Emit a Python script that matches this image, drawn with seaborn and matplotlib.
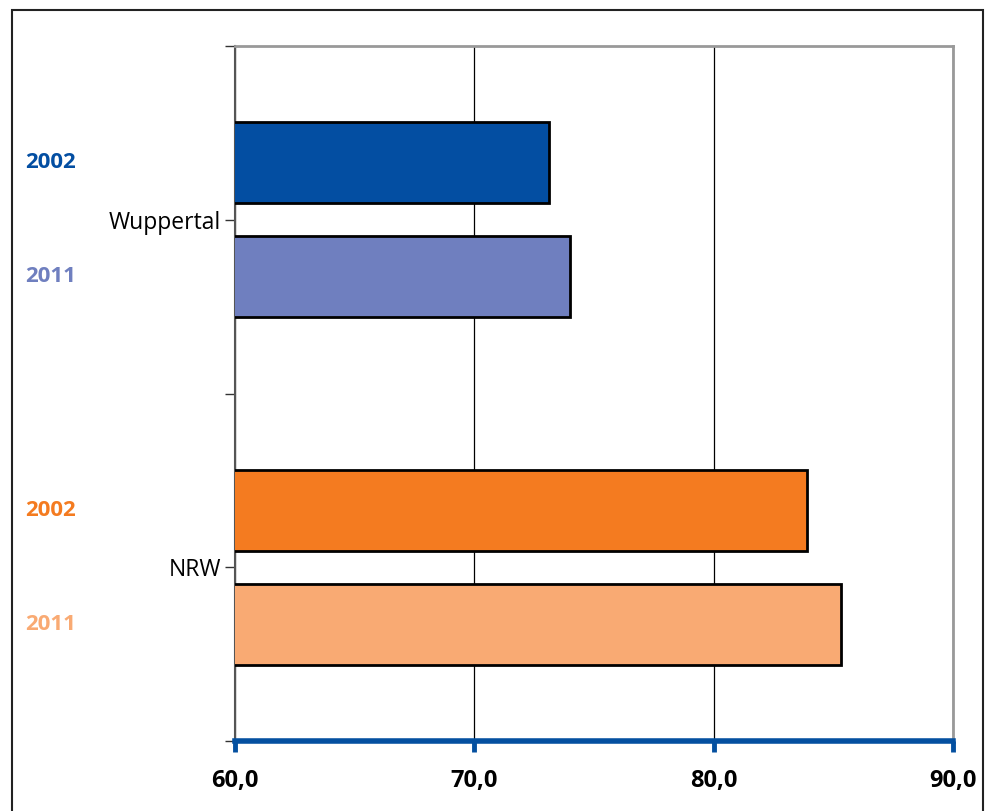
import numpy as np
import pandas as pd
import matplotlib
matplotlib.use('Agg')
import matplotlib.pyplot as plt
import seaborn as sns
from matplotlib.patches import Rectangle
from matplotlib.transforms import blended_transform_factory

# data
regions = ["Wuppertal", "NRW"]
years = ["2002", "2011"]
values_2002 = [73.1, 83.9]
values_2011 = [74.0, 85.3]
x_ticks = [60, 70, 80, 90]
x_tick_labels = ["60,0", "70,0", "80,0", "90,0"]

bar_colors = {
    ("Wuppertal", "2002"): "#034ea2",
    ("Wuppertal", "2011"): "#6f7fbf",
    ("NRW", "2002"): "#f47b20",
    ("NRW", "2011"): "#f9aa73",
}

df = pd.DataFrame({
    "region": regions * 2,
    "year": [years[0]] * 2 + [years[1]] * 2,
    "value": values_2002 + values_2011,
})

sns.set_style("white")
plt.rcParams['font.family'] = ['Open Sans', 'DejaVu Sans']
plt.rcParams['text.color'] = 'black'
plt.rcParams['xtick.labelcolor'] = 'black'
plt.rcParams['ytick.labelcolor'] = 'black'

fig = plt.figure(figsize=(9.86, 8.11), dpi=100)
ax = fig.add_axes([235 / 986, 70 / 811, 718 / 986, 695 / 811])

width = 0.656
sns.barplot(data=df, y="region", x="value", hue="year", order=regions,
            hue_order=years, orient="h", width=width, gap=0.29,
            edgecolor="black", linewidth=2, legend=False, ax=ax, zorder=3)

# recolour each bar by region/year
for yi, cont in enumerate(ax.containers):
    for ri, bar in enumerate(cont):
        bar.set_facecolor(bar_colors[(regions[ri], years[yi])])

ax.set_xlim(60, 90)
ax.set_ylim(len(regions) - 0.5, -0.5)
ax.set_xlabel("")
ax.set_ylabel("")

ax.set_xticks(x_ticks)
ax.set_xticklabels(x_tick_labels, fontsize=17, fontweight="bold")
ax.xaxis.grid(True, color="black", linewidth=0.9, zorder=0)
ax.set_axisbelow(True)

ax.set_yticks(range(len(regions)))
ax.set_yticklabels(regions, fontsize=16.5)
ax.set_yticks(np.arange(-0.5, len(regions), 1.0), minor=True)
ax.tick_params(axis="y", which="both", left=True, length=7, width=1,
               color="#333333", pad=3)
ax.tick_params(axis="x", bottom=True, length=8, width=3.5, color="#0450a0",
               pad=12, direction="out")

for side in ["top", "right"]:
    ax.spines[side].set_visible(True)
    ax.spines[side].set_color("#999999")
    ax.spines[side].set_linewidth(2)
ax.spines["left"].set_color("#555555")
ax.spines["left"].set_linewidth(1.5)
ax.spines["bottom"].set_color("#0450a0")
ax.spines["bottom"].set_linewidth(4)
ax.spines["bottom"].set_zorder(5)

# coloured year labels at the left, aligned with each bar
trans = blended_transform_factory(fig.transFigure, ax.transData)
offset = width / 4
for ri, region in enumerate(regions):
    for yi, year in enumerate(years):
        ypos = ri + (-offset if yi == 0 else offset)
        ax.text(25 / 986, ypos, year, transform=trans, ha="left", va="center",
                fontsize=16, fontweight="bold",
                color=bar_colors[(region, year)])

# outer frame
fig.patches.append(Rectangle((12 / 986, -0.05), 971 / 986, 1.05 - 10 / 811,
                             transform=fig.transFigure, fill=False,
                             edgecolor="#222222", linewidth=1.5))

fig.savefig("out.png", dpi=100)
